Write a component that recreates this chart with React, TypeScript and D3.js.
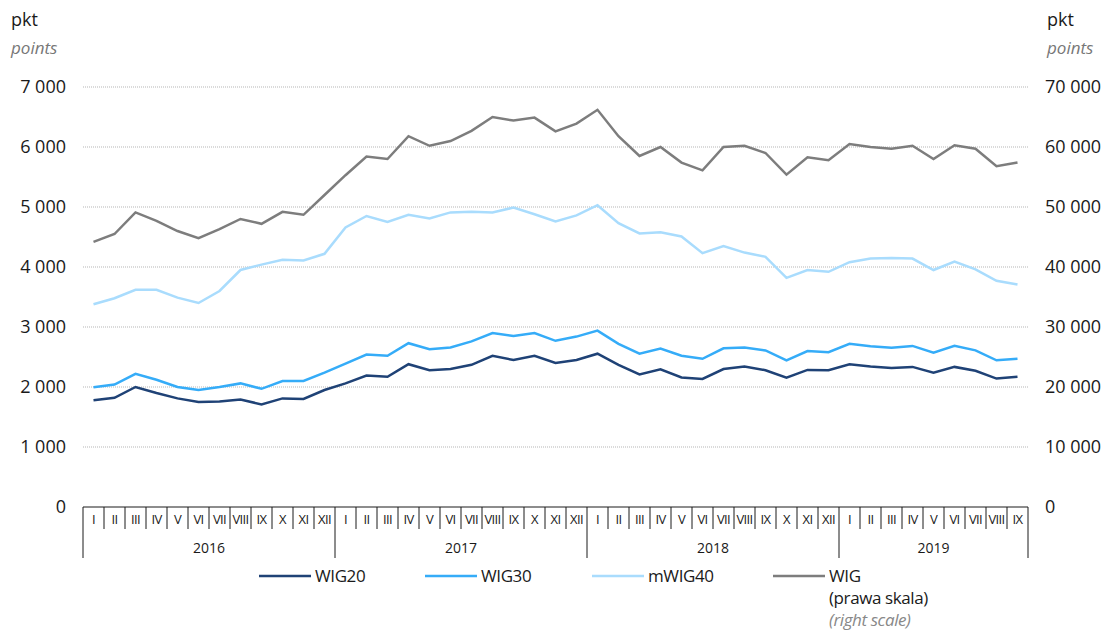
import React from "react";
import * as d3 from "d3";

const months = ["I","II","III","IV","V","VI","VII","VIII","IX","X","XI","XII"];
const years = ["2016","2017","2018","2019"];
const periods: string[] = [];
for (const y of years) for (const m of months) { if (periods.length < 45) periods.push(`${m}-${y}`); }

const wig20 = [1780,1820,2000,1900,1810,1750,1760,1790,1710,1810,1800,1950,2060,2190,2170,2380,2280,2300,2370,2520,2450,2520,2400,2450,2555,2370,2210,2295,2160,2135,2300,2340,2280,2155,2285,2280,2380,2340,2315,2335,2240,2335,2270,2140,2170];
const wig30 = [1995,2040,2220,2120,2000,1950,2000,2060,1970,2100,2100,2240,2390,2540,2520,2730,2630,2660,2760,2900,2850,2900,2770,2840,2940,2720,2555,2640,2520,2470,2645,2660,2610,2445,2600,2580,2720,2680,2655,2685,2570,2685,2610,2445,2470];
const mwig40 = [3380,3480,3620,3620,3490,3400,3600,3950,4040,4120,4110,4220,4660,4850,4750,4870,4810,4910,4920,4910,4990,4880,4760,4860,5030,4730,4560,4580,4510,4230,4350,4240,4170,3820,3950,3920,4080,4140,4150,4140,3950,4090,3960,3770,3710];
const wig = [44200,45500,49100,47700,46000,44800,46300,48000,47200,49200,48700,52000,55300,58400,58000,61800,60200,61000,62700,65000,64400,64900,62600,63900,66200,61800,58500,60000,57400,56100,60000,60200,59000,55400,58300,57800,60500,60000,59700,60200,58000,60300,59700,56800,57400];

const leftTicks = [0,1000,2000,3000,4000,5000,6000,7000];
const rightTicks = [0,10000,20000,30000,40000,50000,60000,70000];

const seriesLeft = [
  { name: "WIG20", values: wig20, color: "#1f4276" },
  { name: "WIG30", values: wig30, color: "#35acf8" },
  { name: "mWIG40", values: mwig40, color: "#a9dcfd" },
];
const wigColor = "#7d7d7d";

const W = 1103, H = 630;
const x0 = 83, x1 = 1028, yTop = 87, yBot = 507;
const font = "'Liberation Sans Narrow', 'Open Sans', sans-serif";

function fmt(v: number) {
  const s = String(v);
  return s.replace(/\B(?=(\d{3})+(?!\d))/g, " ");
}

export default function App() {
  const x = d3.scaleBand<string>().domain(periods).range([x0, x1]);
  const yL = d3.scaleLinear().domain([0, 7000]).range([yBot, yTop]);
  const yR = d3.scaleLinear().domain([0, 70000]).range([yBot, yTop]);
  const cx = (i: number) => (x(periods[i]) as number) + x.bandwidth() / 2;
  const lineL = d3.line<number>().x((_, i) => cx(i)).y((d) => yL(d));
  const lineR = d3.line<number>().x((_, i) => cx(i)).y((d) => yR(d));
  const bw = x.bandwidth();

  const legend = [
    { name: "WIG20", color: seriesLeft[0].color, lx: 259 },
    { name: "WIG30", color: seriesLeft[1].color, lx: 425 },
    { name: "mWIG40", color: seriesLeft[2].color, lx: 592 },
    { name: "WIG", color: wigColor, lx: 773 },
  ];

  return (
    <svg width={W} height={H} style={{ position: "absolute", left: 0, top: 0, background: "#fff" }} fontFamily={font}>
      <text x={11} y={26} fontSize={18} fill="#1a1a1a">pkt</text>
      <text x={11} y={54} fontSize={17} fontStyle="italic" fill="#777">points</text>
      <text x={1047} y={26} fontSize={18} fill="#1a1a1a">pkt</text>
      <text x={1047} y={54} fontSize={17} fontStyle="italic" fill="#777">points</text>

      {leftTicks.filter((t) => t > 0).map((t) => (
        <line key={t} x1={x0} x2={x1} y1={yL(t)} y2={yL(t)} stroke="#b5b5b5" strokeWidth={1} strokeDasharray="1 1" />
      ))}
      {leftTicks.map((t) => (
        <text key={"l" + t} x={66} y={yL(t) + 6} fontSize={18} textAnchor="end" fill="#1a1a1a">{fmt(t)}</text>
      ))}
      {rightTicks.map((t) => (
        <text key={"r" + t} x={1045} y={yR(t) + 6} fontSize={18} textAnchor="start" fill="#1a1a1a">{fmt(t)}</text>
      ))}

      <line x1={x0} x2={x1} y1={yBot} y2={yBot} stroke="#1a1a1a" strokeWidth={1} />
      {periods.map((p, i) => {
        const left = x(p) as number;
        const isYearStart = i % 12 === 0;
        return (
          <g key={p}>
            <line x1={left} x2={left} y1={yBot} y2={isYearStart ? 558 : 529} stroke="#1a1a1a" strokeWidth={1} />
            <text x={left + bw / 2} y={524} fontSize={13} letterSpacing={-0.6} textAnchor="middle" fill="#1a1a1a">{months[i % 12]}</text>
          </g>
        );
      })}
      <line x1={x1} x2={x1} y1={yBot} y2={558} stroke="#1a1a1a" strokeWidth={1} />
      {years.map((y, k) => {
        const startI = k * 12;
        const endI = Math.min(startI + 11, periods.length - 1);
        const a = x(periods[startI]) as number;
        const b = (x(periods[endI]) as number) + bw;
        return (
          <text key={y} x={(a + b) / 2} y={553} fontSize={14} textAnchor="middle" fill="#1a1a1a">{y}</text>
        );
      })}

      <path d={lineR(wig) || ""} fill="none" stroke={wigColor} strokeWidth={2.5} strokeLinejoin="miter" />
      {[...seriesLeft].reverse().map((s) => (
        <path key={s.name} d={lineL(s.values) || ""} fill="none" stroke={s.color} strokeWidth={2.5} strokeLinejoin="miter" />
      ))}

      {legend.map((l) => (
        <g key={l.name}>
          <line x1={l.lx} x2={l.lx + 52} y1={576} y2={576} stroke={l.color} strokeWidth={2.5} />
          <text x={l.lx + 56} y={582} fontSize={17} letterSpacing={-0.4} fill="#1a1a1a">{l.name}</text>
        </g>
      ))}
      <text x={829} y={604} fontSize={17} letterSpacing={-0.4} fill="#1a1a1a">(prawa skala)</text>
      <text x={829} y={626} fontSize={17} letterSpacing={-0.4} fontStyle="italic" fill="#888">(right scale)</text>
    </svg>
  );
}
